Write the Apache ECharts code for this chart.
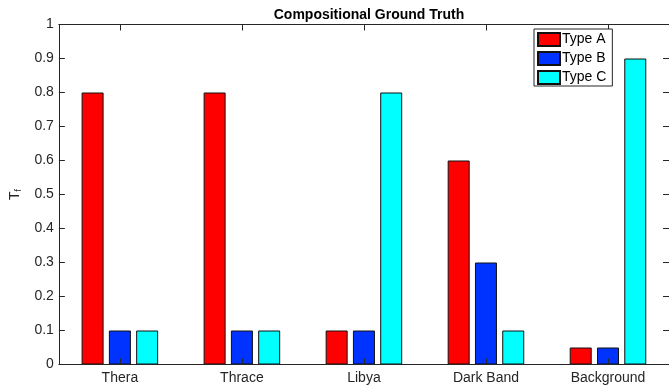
<!DOCTYPE html>
<html>
<head>
<meta charset="utf-8">
<script src="https://cdn.jsdelivr.net/npm/echarts@6/dist/echarts.min.js"></script>
<style>
  html, body { margin: 0; padding: 0; background: #fff; }
  #chart { width: 669px; height: 391px; }
</style>
</head>
<body>
<div id="chart"></div>
<script>
// Sites and the fraction of each material type at each site
const categories = ['Thera', 'Thrace', 'Libya', 'Dark Band', 'Background'];
const typeA = [0.8, 0.8, 0.1, 0.6, 0.05];
const typeB = [0.1, 0.1, 0.1, 0.3, 0.05];
const typeC = [0.1, 0.1, 0.8, 0.1, 0.9];
const yTicks = [0, 0.1, 0.2, 0.3, 0.4, 0.5, 0.6, 0.7, 0.8, 0.9, 1];

const axisColor = '#262626';
const font = 'Liberation Sans, Arial, Helvetica, sans-serif';

const chart = echarts.init(document.getElementById('chart'), null, { renderer: 'canvas' });

function barSeries(name, data, color) {
  return {
    name: name,
    type: 'bar',
    data: data,
    barWidth: 22,
    barGap: '24%',
    itemStyle: { color: color, borderColor: '#111', borderWidth: 1 },
    z: 2
  };
}

const yAxisBase = {
  type: 'value',
  min: yTicks[0],
  max: yTicks[yTicks.length - 1],
  interval: 0.1,
  splitLine: { show: false },
  axisLine: { show: true, onZero: false, lineStyle: { color: axisColor, width: 1 } },
  axisTick: { show: true, inside: true, length: 6, lineStyle: { color: axisColor } },
  z: 3
};

const xAxisBase = {
  type: 'category',
  data: categories,
  axisLine: { show: true, onZero: false, lineStyle: { color: axisColor, width: 1 } },
  axisTick: { show: true, inside: true, length: 6, alignWithLabel: true, lineStyle: { color: axisColor } },
  z: 3
};

chart.setOption({
  animation: false,
  title: {
    text: 'Compositional Ground Truth',
    left: 364,
    textAlign: 'center',
    top: 3,
    textStyle: { fontFamily: font, fontSize: 14, fontWeight: 'bold', color: '#000' }
  },
  legend: {
    orient: 'vertical',
    left: 534,
    top: 29,
    padding: [3, 6, 1, 3],
    itemWidth: 22,
    itemHeight: 13,
    itemGap: 4,
    backgroundColor: '#fff',
    borderColor: '#262626',
    borderWidth: 1,
    icon: 'rect',
    textStyle: {
      fontFamily: font, fontSize: 14, color: '#000', lineHeight: 13,
      padding: [0, 0, 0, -3]
    },
    data: ['Type A', 'Type B', 'Type C']
  },
  grid: { left: 57, right: -3, top: 24.5, bottom: 26.5, containLabel: false },
  xAxis: [
    Object.assign({}, xAxisBase, {
      position: 'bottom',
      axisLabel: { fontFamily: font, fontSize: 14, color: axisColor, margin: 7 }
    }),
    Object.assign({}, xAxisBase, {
      position: 'top',
      axisLabel: { show: false }
    })
  ],
  yAxis: [
    Object.assign({}, yAxisBase, {
      position: 'left',
      name: 'T{sub|f}',
      nameLocation: 'middle',
      nameGap: 35,
      nameTextStyle: {
        fontFamily: font, fontSize: 14, color: axisColor,
        rich: { sub: { fontFamily: font, fontSize: 9, color: axisColor, verticalAlign: 'bottom', padding: [8, 0, 0, 0] } }
      },
      axisLabel: {
        fontFamily: font, fontSize: 14, color: axisColor, margin: 5,
        formatter: function (v) { return String(Math.round(v * 10) / 10); }
      }
    }),
    Object.assign({}, yAxisBase, {
      position: 'right',
      axisLabel: { show: false }
    })
  ],
  series: [
    barSeries('Type A', typeA, '#ff0000'),
    barSeries('Type B', typeB, '#0033ff'),
    barSeries('Type C', typeC, '#00ffff')
  ]
});
</script>
</body>
</html>
